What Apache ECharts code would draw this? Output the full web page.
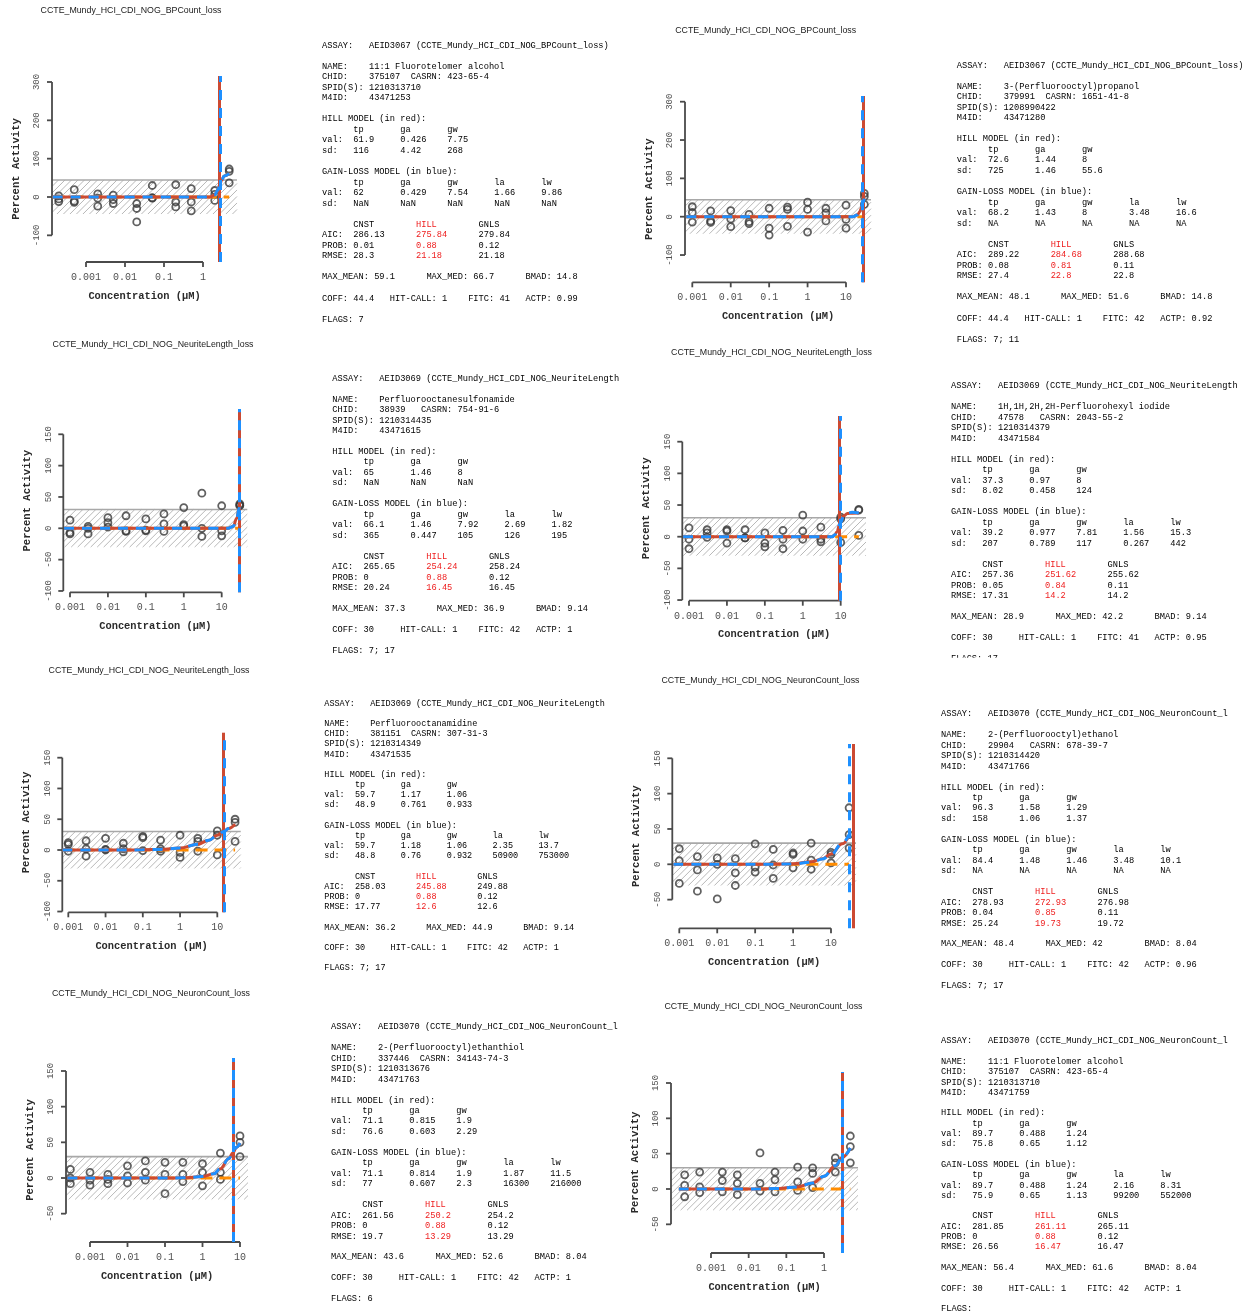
<!DOCTYPE html>
<html>
<head>
<meta charset="utf-8">
<title>tcpl concentration-response panels</title>
<script src="https://cdn.jsdelivr.net/npm/echarts@6.0.0/dist/echarts.min.js"></script>
<style>
html,body{margin:0;padding:0;background:#ffffff;}
#chart{width:1250px;height:1314px;}
</style>
</head>
<body>
<div id="chart"></div>
<script>
// ================= DATA =================
// ---- Panel A (row 1, left) ----
const titleA = 'CCTE_Mundy_HCI_CDI_NOG_BPCount_loss';
const concA = [0.0002, 0.0005, 0.002, 0.005, 0.02, 0.05, 0.2, 0.5, 2, 4.7];
const respA = [[3,-5,-12],[19,-11,-14],[8,-3,-24],[5,-7,-17],[-17,-30,-65],[30,-2,-3],[32,-13,-26],[22,-13,-36],[17,7,-9],[73,67,37]];
const hillCurveA = [[0.00014,0],[1.5,0],[2,5],[2.4,18],[2.67,31],[3,44],[3.5,55],[4.7,61]];
const glCurveA = [[0.00014,0],[1.5,0],[2,5],[2.4,18],[2.69,31],[3,44],[3.5,55],[4.7,61]];
const cnstA = [[0.00014,0],[4.7,0]];
const acA = [2.67, 2.69];
const xTicksA = [0.001, 0.01, 0.1, 1];
const yTicksA = [-100, 0, 100, 200, 300];
const infoA = ['AEID3067 (CCTE_Mundy_HCI_CDI_NOG_BPCount_loss)', '11:1 Fluorotelomer alcohol', '375107', '423-65-4', '1210313710', '43471253'];
const hillParA = [['61.9','0.426','7.75'],['116','4.42','268']];
const glParA = [['62','0.429','7.54','1.66','9.86'],['NaN','NaN','NaN','NaN','NaN']];
const fitStatA = [['286.13','275.84','279.84'],['0.01','0.88','0.12'],['28.3','21.18','21.18']];
const summaryA = ['59.1','66.7','14.8','44.4','1','41','0.99','7'];

// ---- Panel B (row 1, right) ----
const titleB = 'CCTE_Mundy_HCI_CDI_NOG_BPCount_loss';
const concB = [0.001, 0.003, 0.01, 0.03, 0.1, 0.3, 1, 3, 10, 30];
const respB = [[26,11,-14],[15,-11,-15],[16,-6,-26],[6,-13,-18],[22,-30,-48],[25,19,-25],[38,19,-40],[22,10,-11],[30,-7,-30],[61,53,32]];
const hillCurveB = [[0.0007,0],[15,0],[20,5],[23,13],[25,23],[27.5,36],[30,48]];
const glCurveB = [[0.0007,0],[15,0],[20,5],[23,14],[25,24],[27,35],[30,47]];
const cnstB = [[0.0007,0],[30,0]];
const acB = [27.5, 26.9];
const xTicksB = [0.001, 0.01, 0.1, 1, 10];
const yTicksB = [-100, 0, 100, 200, 300];
const infoB = ['AEID3067 (CCTE_Mundy_HCI_CDI_NOG_BPCount_loss)', '3-(Perfluorooctyl)propanol', '379991', '1651-41-8', '1208990422', '43471280'];
const hillParB = [['72.6','1.44','8'],['725','1.46','55.6']];
const glParB = [['68.2','1.43','8','3.48','16.6'],['NA','NA','NA','NA','NA']];
const fitStatB = [['289.22','284.68','288.68'],['0.08','0.81','0.11'],['27.4','22.8','22.8']];
const summaryB = ['48.1','51.6','14.8','44.4','1','42','0.92','7; 11'];

// ---- Panel C (row 2, left) ----
const titleC = 'CCTE_Mundy_HCI_CDI_NOG_NeuriteLength_loss';
const concC = [0.001, 0.003, 0.01, 0.03, 0.1, 0.3, 1, 3, 10, 30];
const respC = [[13,-7,-9],[3,0,-9],[17,9,2],[20,-4,-5],[15,-3,-4],[23,7,-5],[33,6,4],[56,0,-13],[36,-4,-12],[39,37,36]];
const hillCurveC = [[0.0007,0],[15,0],[20,3],[25,16],[28.8,32],[30,38]];
const glCurveC = [[0.0007,0],[15,0],[20,3],[25,16],[28.8,32],[30,37]];
const cnstC = [[0.0007,0],[30,0]];
const acC = [28.8, 28.8];
const xTicksC = [0.001, 0.01, 0.1, 1, 10];
const yTicksC = [-100, -50, 0, 50, 100, 150];
const infoC = ['AEID3069 (CCTE_Mundy_HCI_CDI_NOG_NeuriteLength', 'Perfluorooctanesulfonamide', '38939', '754-91-6', '1210314435', '43471615'];
const hillParC = [['65','1.46','8'],['NaN','NaN','NaN']];
const glParC = [['66.1','1.46','7.92','2.69','1.82'],['365','0.447','105','126','195']];
const fitStatC = [['265.65','254.24','258.24'],['0','0.88','0.12'],['20.24','16.45','16.45']];
const summaryC = ['37.3','36.9','9.14','30','1','42','1','7; 17'];

// ---- Panel D (row 2, right) ----
const titleD = 'CCTE_Mundy_HCI_CDI_NOG_NeuriteLength_loss';
const concD = [0.001, 0.003, 0.01, 0.03, 0.1, 0.3, 1, 3, 10, 30];
const respD = [[14,-4,-19],[11,6,-1],[11,9,-10],[11,-2,-2],[6,-10,-16],[10,-4,-19],[34,9,-4],[15,-4,-8],[31,28,-9],[43,42,2]];
const hillCurveD = [[0.0007,0],[6,0],[7,3],[8,8],[9.33,19],[10,24],[12,33],[15,36.5],[20,37.2],[30,37.3]];
const glCurveD = [[0.0007,0],[6,0],[7,3],[8,8],[9.48,19.6],[10,23],[12,33],[15,37.5],[20,38.5],[30,37.3]];
const cnstD = [[0.0007,0],[30,0]];
const acD = [9.33, 9.48];
const xTicksD = [0.001, 0.01, 0.1, 1, 10];
const yTicksD = [-100, -50, 0, 50, 100, 150];
const infoD = ['AEID3069 (CCTE_Mundy_HCI_CDI_NOG_NeuriteLength', '1H,1H,2H,2H-Perfluorohexyl iodide', '47578', '2043-55-2', '1210314379', '43471584'];
const hillParD = [['37.3','0.97','8'],['8.02','0.458','124']];
const glParD = [['39.2','0.977','7.81','1.56','15.3'],['207','0.789','117','0.267','442']];
const fitStatD = [['257.36','251.62','255.62'],['0.05','0.84','0.11'],['17.31','14.2','14.2']];
const summaryD = ['28.9','42.2','9.14','30','1','41','0.95','17'];

// ---- Panel E (row 3, left) ----
const titleE = 'CCTE_Mundy_HCI_CDI_NOG_NeuriteLength_loss';
const concE = [0.001, 0.003, 0.01, 0.03, 0.1, 0.3, 1, 3, 10, 30];
const respE = [[12,9,-2],[15,2,-10],[19,1,0],[11,2,-3],[22,20,-1],[16,2,-2],[24,-4,-12],[19,14,-2],[31,24,-8],[50,45,14]];
const hillCurveE = [[0.0007,0],[0.03,0],[0.1,0.3],[0.3,1],[1,3.2],[3,9.5],[6,16],[10,24],[14.8,30],[20,35],[30,42]];
const glCurveE = [[0.0007,0],[0.03,0],[0.1,0.3],[0.3,1],[1,3.2],[3,9.4],[6,16],[10,24],[15.1,30],[20,35],[30,42]];
const cnstE = [[0.0007,0],[30,0]];
const acE = [14.8, 15.1];
const xTicksE = [0.001, 0.01, 0.1, 1, 10];
const yTicksE = [-100, -50, 0, 50, 100, 150];
const infoE = ['AEID3069 (CCTE_Mundy_HCI_CDI_NOG_NeuriteLength', 'Perfluorooctanamidine', '381151', '307-31-3', '1210314349', '43471535'];
const hillParE = [['59.7','1.17','1.06'],['48.9','0.761','0.933']];
const glParE = [['59.7','1.18','1.06','2.35','13.7'],['48.8','0.76','0.932','50900','753000']];
const fitStatE = [['258.03','245.88','249.88'],['0','0.88','0.12'],['17.77','12.6','12.6']];
const summaryE = ['36.2','44.9','9.14','30','1','42','1','7; 17'];

// ---- Panel F (row 3, right) ----
const titleF = 'CCTE_Mundy_HCI_CDI_NOG_NeuronCount_loss';
const concF = [0.001, 0.003, 0.01, 0.03, 0.1, 0.3, 1, 3, 10, 30];
const respF = [[22,5,-27],[11,-8,-38],[9,0,-49],[8,-12,-30],[29,-4,-11],[21,-1,-20],[16,14,-5],[30,6,-7],[17,14,2],[80,42,23]];
const hillCurveF = [[0.0007,0],[0.1,0.1],[0.3,0.3],[1,0.9],[3,3.5],[6,8],[10,14.7],[20,29],[30,41]];
const glCurveF = [[0.0007,0],[0.1,0.05],[0.3,0.2],[1,0.6],[3,2.8],[6,7.5],[10,14],[20,30],[30,42]];
const cnstF = [[0.0007,0],[30,0]];
const acF = [38.0, 30.2];
const xTicksF = [0.001, 0.01, 0.1, 1, 10];
const yTicksF = [-50, 0, 50, 100, 150];
const infoF = ['AEID3070 (CCTE_Mundy_HCI_CDI_NOG_NeuronCount_l', '2-(Perfluorooctyl)ethanol', '29904', '678-39-7', '1210314420', '43471766'];
const hillParF = [['96.3','1.58','1.29'],['158','1.06','1.37']];
const glParF = [['84.4','1.48','1.46','3.48','10.1'],['NA','NA','NA','NA','NA']];
const fitStatF = [['278.93','272.93','276.98'],['0.04','0.85','0.11'],['25.24','19.73','19.72']];
const summaryF = ['48.4','42','8.04','30','1','42','0.96','7; 17'];

// ---- Panel G (row 4, left) ----
const titleG = 'CCTE_Mundy_HCI_CDI_NOG_NeuronCount_loss';
const concG = [0.0003, 0.001, 0.003, 0.01, 0.03, 0.1, 0.3, 1, 3, 10];
const respG = [[12,0,-8],[8,-3,-10],[5,-2,-8],[17,3,-7],[24,8,-3],[22,5,-22],[22,5,-5],[20,8,-11],[35,8,-2],[59,50,30]];
const hillCurveG = [[0.00025,0],[0.1,0],[0.3,0.2],[1,2],[2,6],[3,13],[5,27],[6.53,35.5],[8,43],[10,49]];
const glCurveG = [[0.00025,0],[0.1,0],[0.3,0.2],[1,2],[2,6],[3,13],[5,27],[6.52,35.5],[8,43],[10,49]];
const cnstG = [[0.00025,0],[10,0]];
const acG = [6.53, 6.52];
const xTicksG = [0.001, 0.01, 0.1, 1, 10];
const yTicksG = [-50, 0, 50, 100, 150];
const infoG = ['AEID3070 (CCTE_Mundy_HCI_CDI_NOG_NeuronCount_l', '2-(Perfluorooctyl)ethanthiol', '337446', '34143-74-3', '1210313676', '43471763'];
const hillParG = [['71.1','0.815','1.9'],['76.6','0.603','2.29']];
const glParG = [['71.1','0.814','1.9','1.87','11.5'],['77','0.607','2.3','16300','216000']];
const fitStatG = [['261.56','250.2','254.2'],['0','0.88','0.12'],['19.7','13.29','13.29']];
const summaryG = ['43.6','52.6','8.04','30','1','42','1','6'];

// ---- Panel H (row 4, right) ----
const titleH = 'CCTE_Mundy_HCI_CDI_NOG_NeuronCount_loss';
const concH = [0.0002, 0.0005, 0.002, 0.005, 0.02, 0.05, 0.2, 0.5, 2, 5];
const respH = [[20,5,-11],[24,3,-5],[24,12,-4],[20,8,-8],[51,8,-3],[24,13,-4],[31,10,-2],[30,22,2],[44,37,24],[75,60,37]];
const hillCurveH = [[0.00014,0],[0.02,0.1],[0.05,0.6],[0.2,3],[0.5,8.5],[1,18],[2,33],[3.08,45],[5,58]];
const glCurveH = [[0.00014,0],[0.02,0.1],[0.05,0.6],[0.2,3],[0.5,8.5],[1,18],[2,33],[3.08,45],[5,58]];
const cnstH = [[0.00014,0],[5,0]];
const acH = [3.08, 3.08];
const xTicksH = [0.001, 0.01, 0.1, 1];
const yTicksH = [-50, 0, 50, 100, 150];
const infoH = ['AEID3070 (CCTE_Mundy_HCI_CDI_NOG_NeuronCount_l', '11:1 Fluorotelomer alcohol', '375107', '423-65-4', '1210313710', '43471759'];
const hillParH = [['89.7','0.488','1.24'],['75.8','0.65','1.12']];
const glParH = [['89.7','0.488','1.24','2.16','8.31'],['75.9','0.65','1.13','99200','552000']];
const fitStatH = [['281.85','261.11','265.11'],['0','0.88','0.12'],['26.56','16.47','16.47']];
const summaryH = ['56.4','61.6','8.04','30','1','42','1',''];

// ================= LAYOUT (pixel calibration of each panel) =================
const layoutA = {L:52,   R:237,  T:76,   B:262,   xa:[0.001,86],    xb:[1,203],    ya:[0,197],    yb:[300,82],    titleX:131,   titleY:11,   tx:322,   ty:45.3,  fs:8.7, lh:10.54};
const layoutB = {L:685,  R:871,  T:96,   B:282.3, xa:[0.001,692.3], xb:[10,846],   ya:[0,216.7],  yb:[300,101.7], titleX:765.7, titleY:31,   tx:956.7, ty:65.3,  fs:8.7, lh:10.54};
const layoutC = {L:63.3, R:247.3,T:409,  B:592.3, xa:[0.001,70],    xb:[10,221.7], ya:[0,528.3],  yb:[150,434.3], titleX:153,   titleY:345,  tx:332.3, ty:378.3, fs:8.7, lh:10.48};
const layoutD = {L:682.3,R:866,  T:416,  B:600.7, xa:[0.001,689],   xb:[10,840.7], ya:[0,536.7],  yb:[150,441.7], titleX:771.5, titleY:352.7,tx:951,   ty:385.7, fs:8.7, lh:10.5};
const layoutE = {L:62.3, R:240.7,T:732.7,B:912.3, xa:[0.001,68.3],  xb:[10,217.3], ya:[0,850],    yb:[150,757.7], titleX:149,   titleY:670.7,tx:324.3, ty:703.3, fs:8.5, lh:10.19};
const layoutF = {L:672.3,R:856,  T:744,  B:928.3, xa:[0.001,679.3], xb:[10,831],   ya:[0,864.3],  yb:[150,758.3], titleX:760.5, titleY:681,  tx:941,   ty:714,   fs:8.7, lh:10.46};
const layoutG = {L:66,   R:248,  T:1058, B:1242,  xa:[0.001,90],    xb:[10,240],   ya:[0,1178],   yb:[150,1071],  titleX:151,   titleY:994,  tx:331,   ty:1027,  fs:8.7, lh:10.46};
const layoutH = {L:671,  R:858,  T:1072, B:1253,  xa:[0.001,711],   xb:[1,824],    ya:[0,1189],   yb:[150,1083],  titleX:763.5, titleY:1007, tx:941,   ty:1041,  fs:8.7, lh:10.3};

// ================= STYLES =================
const RED = '#CC4A32';
const BLUE = '#1E90FF';
const ORANGE = '#FF8C00';
const AXIS = '#4a4a4a';
const TXT = '#000000';
const HILLRED = '#EE1C1C';
const MONO = '"Liberation Mono","Courier New","DejaVu Sans Mono",monospace';
const SANS = '"Liberation Sans",Arial,"DejaVu Sans",sans-serif';

const panels = [
  {title:titleA, conc:concA, resp:respA, hill:hillCurveA, gl:glCurveA, cnst:cnstA, ac:acA, xTicks:xTicksA, yTicks:yTicksA, info:infoA, hillPar:hillParA, glPar:glParA, fitStat:fitStatA, summary:summaryA, lay:layoutA},
  {title:titleB, conc:concB, resp:respB, hill:hillCurveB, gl:glCurveB, cnst:cnstB, ac:acB, xTicks:xTicksB, yTicks:yTicksB, info:infoB, hillPar:hillParB, glPar:glParB, fitStat:fitStatB, summary:summaryB, lay:layoutB},
  {title:titleC, conc:concC, resp:respC, hill:hillCurveC, gl:glCurveC, cnst:cnstC, ac:acC, xTicks:xTicksC, yTicks:yTicksC, info:infoC, hillPar:hillParC, glPar:glParC, fitStat:fitStatC, summary:summaryC, lay:layoutC},
  {title:titleD, conc:concD, resp:respD, hill:hillCurveD, gl:glCurveD, cnst:cnstD, ac:acD, xTicks:xTicksD, yTicks:yTicksD, info:infoD, hillPar:hillParD, glPar:glParD, fitStat:fitStatD, summary:summaryD, lay:layoutD},
  {title:titleE, conc:concE, resp:respE, hill:hillCurveE, gl:glCurveE, cnst:cnstE, ac:acE, xTicks:xTicksE, yTicks:yTicksE, info:infoE, hillPar:hillParE, glPar:glParE, fitStat:fitStatE, summary:summaryE, lay:layoutE},
  {title:titleF, conc:concF, resp:respF, hill:hillCurveF, gl:glCurveF, cnst:cnstF, ac:acF, xTicks:xTicksF, yTicks:yTicksF, info:infoF, hillPar:hillParF, glPar:glParF, fitStat:fitStatF, summary:summaryF, lay:layoutF},
  {title:titleG, conc:concG, resp:respG, hill:hillCurveG, gl:glCurveG, cnst:cnstG, ac:acG, xTicks:xTicksG, yTicks:yTicksG, info:infoG, hillPar:hillParG, glPar:glParG, fitStat:fitStatG, summary:summaryG, lay:layoutG},
  {title:titleH, conc:concH, resp:respH, hill:hillCurveH, gl:glCurveH, cnst:cnstH, ac:acH, xTicks:xTicksH, yTicks:yTicksH, info:infoH, hillPar:hillParH, glPar:glParH, fitStat:fitStatH, summary:summaryH, lay:layoutH}
];

function tstyle(text, size, weight, color) {
  return {text:text, fontSize:size, fontFamily:MONO, fontWeight:weight, fill:color,
    align:'center', verticalAlign:'middle', textAlign:'center', textVerticalAlign:'middle'};
}

// R-style frame: cutoff band, axes drawn only over tick range, axis titles
function makeFrame(p, coff) {
  return function (params, api) {
    const cs = params.coordSys;
    const x0 = cs.x, x1 = cs.x + cs.width, yB = cs.y + cs.height;
    const kids = [];
    const refX = p.xTicks[0];
    const yHi = api.coord([refX, coff])[1];
    const yLo = api.coord([refX, -coff])[1];
    const h = yLo - yHi, step = 6.5;
    for (let k = x0 - h; k < x1; k += step) {
      const t0 = Math.max(0, x0 - k), t1 = Math.min(h, x1 - k);
      if (t1 > t0) kids.push({type:'line', shape:{x1:k + t0, y1:yLo - t0, x2:k + t1, y2:yLo - t1}, style:{stroke:'#b0b0b0', lineWidth:0.9}});
    }
    kids.push({type:'line', shape:{x1:x0, y1:yHi, x2:x1, y2:yHi}, style:{stroke:'#a8a8a8', lineWidth:1.6}});
    // y axis
    const yFirst = api.coord([refX, p.yTicks[0]])[1];
    const yLast = api.coord([refX, p.yTicks[p.yTicks.length - 1]])[1];
    kids.push({type:'line', shape:{x1:x0, y1:yFirst, x2:x0, y2:yLast}, style:{stroke:AXIS, lineWidth:1.8}});
    p.yTicks.forEach(function (v) {
      const y = api.coord([refX, v])[1];
      kids.push({type:'line', shape:{x1:x0 - 5, y1:y, x2:x0, y2:y}, style:{stroke:AXIS, lineWidth:1.8}});
      kids.push({type:'text', x:x0 - 15, y:y, rotation:Math.PI / 2, style:tstyle(String(v), 9, 'normal', '#505050')});
    });
    // x axis
    const xFirst = api.coord([p.xTicks[0], 0])[0];
    const xLast = api.coord([p.xTicks[p.xTicks.length - 1], 0])[0];
    kids.push({type:'line', shape:{x1:xFirst, y1:yB, x2:xLast, y2:yB}, style:{stroke:AXIS, lineWidth:1.8}});
    p.xTicks.forEach(function (v) {
      const x = api.coord([v, 0])[0];
      kids.push({type:'line', shape:{x1:x, y1:yB, x2:x, y2:yB + 5}, style:{stroke:AXIS, lineWidth:1.8}});
      kids.push({type:'text', x:x, y:yB + 15.5, style:tstyle(String(v), 10, 'normal', '#505050')});
    });
    // axis titles
    kids.push({type:'text', x:(x0 + x1) / 2, y:yB + 34, style:tstyle('Concentration (\u00b5M)', 10.4, 'bold', '#2a2a2a')});
    kids.push({type:'text', x:x0 - 36, y:(cs.y + yB) / 2, rotation:Math.PI / 2, style:tstyle('Percent Activity', 10.6, 'bold', '#2a2a2a')});
    return {type:'group', children:kids};
  };
}

const option = {
  animation: false,
  backgroundColor: '#ffffff',
  grid: [], xAxis: [], yAxis: [], series: [], graphic: []
};

function gtext(x, y, str, size, family, color, align) {
  option.graphic.push({type:'text', silent:true, x:x, y:y, z:10,
    style:{text:str, fontSize:size, fontFamily:family, fill:color, align:align || 'left', verticalAlign:'middle', textAlign:align || 'left', textVerticalAlign:'middle'}});
}

function addTextBlock(p) {
  const L = p.lay, cw = L.fs * 0.6;
  const put = function (line, col, str, color) { gtext(L.tx + col * cw, L.ty + line * L.lh, str, L.fs, MONO, color || TXT); };
  put(0, 0, 'ASSAY:'); put(0, 9, p.info[0]);
  put(2, 0, 'NAME:'); put(2, 9, p.info[1]);
  put(3, 0, 'CHID:'); put(3, 9, p.info[2]); put(3, 17, 'CASRN: ' + p.info[3]);
  put(4, 0, 'SPID(S): ' + p.info[4]);
  put(5, 0, 'M4ID:'); put(5, 9, p.info[5]);
  put(7, 0, 'HILL MODEL (in red):');
  const hc = [6, 15, 24];
  ['tp', 'ga', 'gw'].forEach(function (s, k) { put(8, hc[k], s); });
  put(9, 0, 'val:'); p.hillPar[0].forEach(function (s, k) { put(9, hc[k], s); });
  put(10, 0, 'sd:'); p.hillPar[1].forEach(function (s, k) { put(10, hc[k], s); });
  put(12, 0, 'GAIN-LOSS MODEL (in blue):');
  const gc = [6, 15, 24, 33, 42];
  ['tp', 'ga', 'gw', 'la', 'lw'].forEach(function (s, k) { put(13, gc[k], s); });
  put(14, 0, 'val:'); p.glPar[0].forEach(function (s, k) { put(14, gc[k], s); });
  put(15, 0, 'sd:'); p.glPar[1].forEach(function (s, k) { put(15, gc[k], s); });
  const sc = [6, 18, 30];
  ['CNST', 'HILL', 'GNLS'].forEach(function (s, k) { put(17, sc[k], s, k === 1 ? HILLRED : TXT); });
  ['AIC:', 'PROB:', 'RMSE:'].forEach(function (lab, r) {
    put(18 + r, 0, lab);
    p.fitStat[r].forEach(function (s, k) { put(18 + r, sc[k], s, k === 1 ? HILLRED : TXT); });
  });
  put(22, 0, 'MAX_MEAN: ' + p.summary[0]); put(22, 20, 'MAX_MED: ' + p.summary[1]); put(22, 39, 'BMAD: ' + p.summary[2]);
  put(24, 0, 'COFF: ' + p.summary[3]); put(24, 13, 'HIT-CALL: ' + p.summary[4]); put(24, 28, 'FITC: ' + p.summary[5]); put(24, 39, 'ACTP: ' + p.summary[6]);
  put(26, 0, 'FLAGS: ' + p.summary[7]);
}

panels.forEach(function (p, i) {
  const lay = p.lay;
  const lxa = Math.log10(lay.xa[0]), lxb = Math.log10(lay.xb[0]);
  const dpd = (lay.xb[1] - lay.xa[1]) / (lxb - lxa);
  const xMin = Math.pow(10, lxa - (lay.xa[1] - lay.L) / dpd);
  const xMax = Math.pow(10, lxa + (lay.R - lay.xa[1]) / dpd);
  const ppu = (lay.ya[1] - lay.yb[1]) / (lay.yb[0] - lay.ya[0]);
  const yMax = lay.ya[0] + (lay.ya[1] - lay.T) / ppu;
  const yMin = lay.ya[0] - (lay.B - lay.ya[1]) / ppu;
  option.grid.push({left:lay.L, top:lay.T, width:lay.R - lay.L, height:lay.B - lay.T, show:false, containLabel:false, outerBoundsMode:'none'});
  option.xAxis.push({type:'log', logBase:10, gridIndex:i, min:xMin, max:xMax, show:false});
  option.yAxis.push({type:'value', gridIndex:i, min:yMin, max:yMax, show:false});
  const coff = parseFloat(p.summary[3]);

  option.series.push({type:'custom', coordinateSystem:'cartesian2d', xAxisIndex:i, yAxisIndex:i,
    data:[[p.xTicks[0], 0]], silent:true, clip:false, z:1, renderItem:makeFrame(p, coff)});

  const pts = [];
  p.conc.forEach(function (c, k) { p.resp[k].forEach(function (v) { pts.push([c, v]); }); });
  option.series.push({type:'scatter', xAxisIndex:i, yAxisIndex:i, data:pts, symbol:'circle', symbolSize:7, silent:true, z:2,
    itemStyle:{color:'rgba(0,0,0,0)', borderColor:'#3a3a3a', borderWidth:1.8}});

  option.series.push({type:'line', xAxisIndex:i, yAxisIndex:i, data:p.cnst, symbol:'none', silent:true, z:3,
    lineStyle:{color:ORANGE, width:3, type:[12, 7]}});

  option.series.push({type:'line', xAxisIndex:i, yAxisIndex:i, data:p.hill, symbol:'none', silent:true, z:4,
    smooth:0.4, smoothMonotone:'x', lineStyle:{color:RED, width:3},
    markLine:{silent:true, symbol:['none', 'none'], label:{show:false}, animation:false,
      lineStyle:{color:RED, width:3, type:'solid'}, data:[{xAxis:p.ac[0]}]}});

  option.series.push({type:'line', xAxisIndex:i, yAxisIndex:i, data:p.gl, symbol:'none', silent:true, z:5,
    smooth:0.4, smoothMonotone:'x', lineStyle:{color:BLUE, width:3, type:[10, 8]},
    markLine:{silent:true, symbol:['none', 'none'], label:{show:false}, animation:false,
      lineStyle:{color:BLUE, width:3, type:[10, 8]}, data:[{xAxis:p.ac[1]}]}});

  gtext(lay.titleX, lay.titleY, p.title, 8.8, SANS, '#1a1a1a', 'center');
  addTextBlock(p);
});

// panel D text block is cut off at its bottom edge in the source image
option.graphic.push({type:'rect', silent:true, z:20, shape:{x:935, y:657.8, width:315, height:10}, style:{fill:'#ffffff'}});

const chart = echarts.init(document.getElementById('chart'), null, {renderer:'canvas', width:1250, height:1314});
chart.setOption(option);
</script>
</body>
</html>
